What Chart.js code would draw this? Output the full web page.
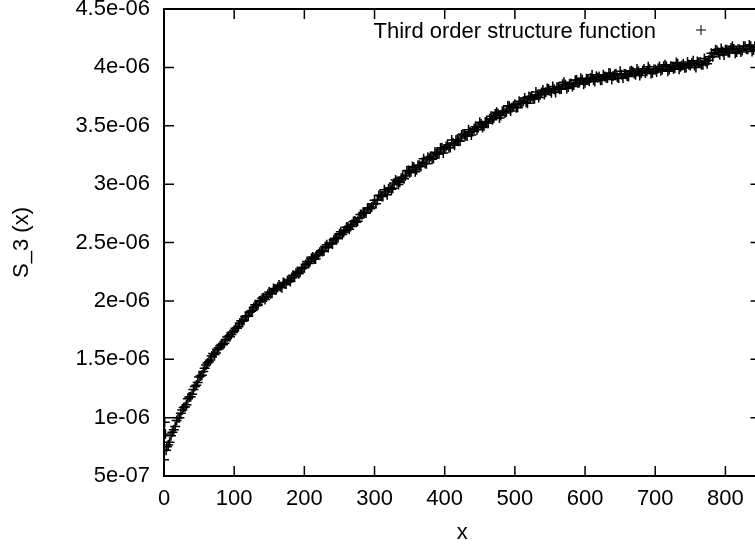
<!DOCTYPE html>
<html><head><meta charset="utf-8">
<script src="https://cdn.jsdelivr.net/npm/chart.js@4.4.0/dist/chart.umd.min.js"></script>
<style>html,body{margin:0;padding:0;overflow:hidden;background:#fff;width:755px;height:546px}canvas{display:block}</style>
</head><body><canvas id="c" width="770" height="546"></canvas>
<script>
// x positions (separation), first sample set
const xs=[0,1,2,3,4,8,12,16,20,24,28,32,36,40,44,48,52,56,60,64,68,72,76,80,84,88,92,96,100,104,108,112,116,120,124,128,132,136,140,144,148,152,156,160,164,168,172,176,180,184,188,192,196,200,204,208,212,216,220,224,228,232,236,240,244,248,252,256,260,264,268,272,276,280,284,288,292,296,300,304,308,312,316,320,324,328,332,336,340,344,348,352,356,360,364,368,372,376,380,384,388,392,396,400,404,408,412,416,420,424,428,432,436,440,444,448,452,456,460,464,468,472,476,480,484,488,492,496,500,504,508,512,516,520,524,528,532,536,540,544,548,552,556,560,564,568,572,576,580,584,588,592,596,600,604,608,612,616,620,624,628,632,636,640,644,648,652,656,660,664,668,672,676,680,684,688,692,696,700,704,708,712,716,720,724,728,732,736,740,744,748,752,756,760,764,768,772,776,780,784,788,792,796,800,804,808,812,816,820,824,828,832,836,840,844,848];
// S_3(x) values at xs, in units of 1e-6
const s3=[0.64,0.96,0.86,0.72,0.75,0.79,0.875,0.925,1.00,1.038,1.087,1.11,1.176,1.20,1.266,1.30,1.356,1.395,1.45,1.478,1.527,1.54,1.583,1.615,1.624,1.67,1.696,1.711,1.748,1.765,1.811,1.826,1.867,1.869,1.911,1.945,1.958,2.00,2.022,2.012,2.056,2.06,2.107,2.096,2.135,2.113,2.152,2.175,2.167,2.22,2.237,2.232,2.276,2.285,2.337,2.336,2.375,2.358,2.402,2.43,2.427,2.48,2.492,2.487,2.536,2.54,2.592,2.586,2.63,2.613,2.657,2.685,2.682,2.74,2.757,2.752,2.796,2.805,2.862,2.861,2.905,2.893,2.932,2.96,2.957,3.01,3.022,3.017,3.061,3.07,3.117,3.106,3.145,3.123,3.162,3.185,3.177,3.23,3.237,3.222,3.261,3.26,3.312,3.301,3.335,3.313,3.352,3.375,3.367,3.42,3.422,3.412,3.446,3.45,3.492,3.486,3.515,3.498,3.537,3.56,3.552,3.60,3.602,3.587,3.626,3.62,3.667,3.656,3.685,3.658,3.692,3.71,3.702,3.75,3.752,3.732,3.766,3.765,3.807,3.786,3.815,3.783,3.812,3.83,3.812,3.855,3.852,3.832,3.861,3.85,3.892,3.871,3.895,3.868,3.897,3.91,3.892,3.925,3.922,3.892,3.921,3.91,3.947,3.926,3.945,3.908,3.937,3.945,3.927,3.965,3.962,3.937,3.966,3.95,3.987,3.966,3.985,3.953,3.982,3.99,3.972,4.01,4.007,3.982,4.006,3.995,4.032,4.006,4.03,3.998,4.022,4.035,4.017,4.05,4.047,4.022,4.051,4.06,4.122,4.121,4.145,4.108,4.137,4.15,4.127,4.165,4.157,4.132,4.156,4.145,4.182,4.156,4.18,4.148,4.172,4.185];
// second sample set, interleaved
const xs2=[6,10,14,18,22,26,30,34,38,42,46,50,54,58,62,66,70,74,78,82,86,90,94,98,102,106,110,114,118,122,126,130,134,138,142,146,150,154,158,162,166,170,174,178,182,186,190,194,198,202,206,210,214,218,222,226,230,234,238,242,246,250,254,258,262,266,270,274,278,282,286,290,294,298,302,306,310,314,318,322,326,330,334,338,342,346,350,354,358,362,366,370,374,378,382,386,390,394,398,402,406,410,414,418,422,426,430,434,438,442,446,450,454,458,462,466,470,474,478,482,486,490,494,498,502,506,510,514,518,522,526,530,534,538,542,546,550,554,558,562,566,570,574,578,582,586,590,594,598,602,606,610,614,618,622,626,630,634,638,642,646,650,654,658,662,666,670,674,678,682,686,690,694,698,702,706,710,714,718,722,726,730,734,738,742,746,750,754,758,762,766,770,774,778,782,786,790,794,798,802,806,810,814,818,822,826,830,834,838,842,846];
const s3b=[0.765,0.845,0.897,0.975,1.00,1.065,1.094,1.162,1.178,1.24,1.278,1.347,1.363,1.423,1.467,1.493,1.55,1.553,1.598,1.627,1.638,1.69,1.693,1.733,1.765,1.778,1.83,1.833,1.873,1.902,1.918,1.967,1.965,2.003,2.027,2.033,2.075,2.065,2.095,2.117,2.12,2.157,2.145,2.175,2.197,2.205,2.252,2.248,2.285,2.312,2.32,2.365,2.358,2.393,2.417,2.423,2.465,2.458,2.495,2.524,2.533,2.575,2.568,2.605,2.632,2.638,2.68,2.673,2.71,2.739,2.75,2.795,2.79,2.83,2.832,2.902,2.897,2.952,2.91,2.97,2.965,3.035,2.997,3.05,3.047,3.112,3.097,3.15,3.107,3.162,3.152,3.217,3.175,3.222,3.212,3.272,3.257,3.31,3.267,3.322,3.312,3.377,3.332,3.377,3.37,3.43,3.415,3.465,3.42,3.475,3.465,3.53,3.485,3.532,3.522,3.582,3.567,3.615,3.567,3.622,3.61,3.672,3.627,3.67,3.655,3.71,3.69,3.737,3.692,3.745,3.73,3.79,3.742,3.785,3.767,3.82,3.797,3.837,3.785,3.832,3.815,3.872,3.82,3.857,3.837,3.89,3.867,3.907,3.855,3.902,3.882,3.937,3.88,3.912,3.89,3.937,3.912,3.952,3.897,3.94,3.915,3.967,3.91,3.942,3.922,3.972,3.947,3.987,3.93,3.972,3.952,4.005,3.947,3.982,3.96,4.007,3.982,4.022,3.967,4.01,3.987,4.042,3.985,4.017,3.997,4.045,4.017,4.057,4.0,4.042,4.022,4.077,4.032,4.09,4.092,4.152,4.125,4.162,4.107,4.15,4.127,4.18,4.122,4.155,4.132,4.182,4.155,4.192,4.137,4.18,4.157];
const seriesLabel='Third order structure function';
const xTitle='x';
const yTitle='S_3 (x)';
const yTickValues=[0.5,1,1.5,2,2.5,3,3.5,4,4.5];
const yTickLabels=['5e-07','1e-06','1.5e-06','2e-06','2.5e-06','3e-06','3.5e-06','4e-06','4.5e-06'];

const FONT='"Liberation Sans", Arial, Helvetica, sans-serif';
const FS=22;
const points=xs.map((x,i)=>({x:x,y:s3[i]})).concat(xs2.map((x,i)=>({x:x,y:s3b[i]})));

const frame={
  id:'frame',
  afterDraw(chart){
    const ctx=chart.ctx, a=chart.chartArea, sx=chart.scales.x, sy=chart.scales.y;
    ctx.save();
    ctx.strokeStyle='#000';
    ctx.lineWidth=1.5;
    const TL=10;
    ctx.beginPath();
    sx.ticks.forEach(t=>{const p=sx.getPixelForValue(t.value);
      ctx.moveTo(p,a.bottom);ctx.lineTo(p,a.bottom-TL);
      ctx.moveTo(p,a.top);ctx.lineTo(p,a.top+TL);});
    sy.ticks.forEach(t=>{const p=sy.getPixelForValue(t.value);
      ctx.moveTo(a.left,p);ctx.lineTo(a.left+TL,p);
      ctx.moveTo(a.right,p);ctx.lineTo(a.right-TL,p);});
    ctx.stroke();
    ctx.lineWidth=2;
    ctx.strokeRect(a.left,a.top,a.right-a.left,a.bottom-a.top);
    // key
    const ds=chart.data.datasets[0];
    ctx.fillStyle='#000';
    ctx.font=FS+'px '+FONT;
    ctx.textAlign='right';
    ctx.textBaseline='middle';
    ctx.fillText(ds.label,656,32);
    ctx.lineWidth=1;
    Chart.helpers.drawPoint(ctx,{pointStyle:'cross',radius:5,rotation:0,borderWidth:1},701,30);
    ctx.restore();
  }
};

new Chart(document.getElementById('c'),{
  type:'scatter',
  data:{datasets:[{label:seriesLabel,data:points,pointStyle:'cross',pointRadius:5,pointBorderWidth:1.5,borderColor:'#000',backgroundColor:'#000',pointHoverRadius:5}]},
  options:{
    responsive:false,animation:false,devicePixelRatio:1,
    layout:{padding:{left:0,top:9,right:9.5,bottom:0}},
    plugins:{legend:{display:false},tooltip:{enabled:false}},
    scales:{
      x:{type:'linear',min:0,max:850,
        ticks:{stepSize:100,includeBounds:false,color:'#000',font:{family:FONT,size:FS},padding:10,maxRotation:0},
        grid:{display:false,drawTicks:false},border:{display:false},
        title:{display:true,text:xTitle,color:'#000',font:{family:FONT,size:FS},padding:{top:0,bottom:0}},
        afterFit(s){s.height=70;s.paddingLeft=0;s.paddingRight=0;}
      },
      y:{type:'linear',min:0.5,max:4.5,
        afterBuildTicks(s){s.ticks=yTickValues.map(v=>({value:v}));},
        ticks:{color:'#000',font:{family:FONT,size:FS},padding:14,
          callback:(v)=>{const i=yTickValues.indexOf(v);return i>=0?yTickLabels[i]:'';}},
        grid:{display:false,drawTicks:false},border:{display:false},
        title:{display:true,text:yTitle,color:'#000',font:{family:FONT,size:FS},padding:{top:9,bottom:0}},
        afterFit(s){s.width=164;s.paddingTop=0;s.paddingBottom=0;}
      }
    }
  },
  plugins:[frame]
});
</script></body></html>
